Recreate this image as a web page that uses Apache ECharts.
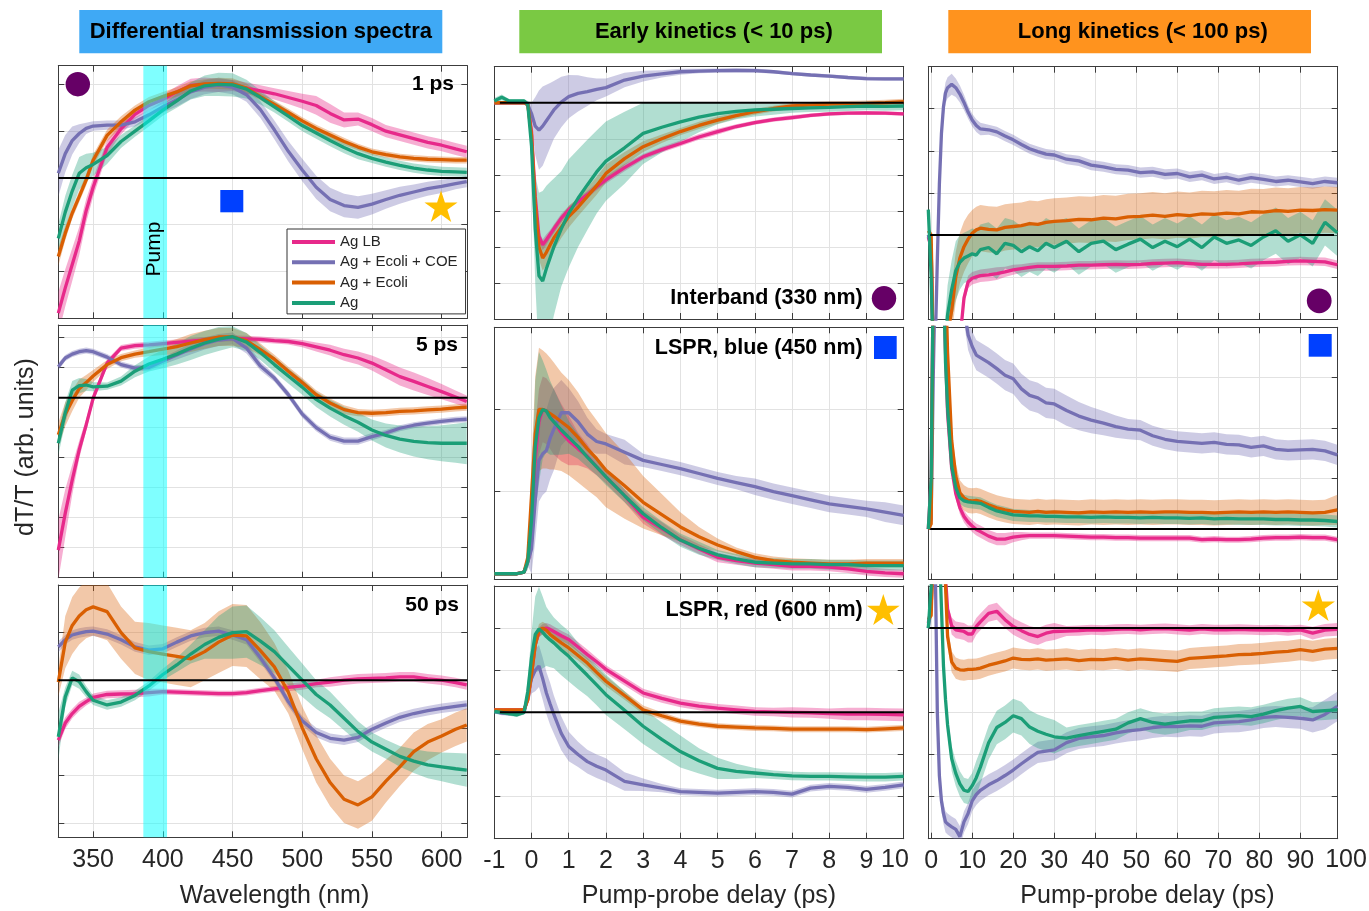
<!DOCTYPE html>
<html><head><meta charset="utf-8">
<script src="https://cdn.jsdelivr.net/npm/echarts@6/dist/echarts.min.js"></script>
<style>html,body{margin:0;padding:0;background:#fff}#c{width:1369px;height:911px}</style>
</head><body><div id="c"></div>
<script>
// ---------- DATA ----------
const NAMES = ['Ag LB','Ag + Ecoli + COE','Ag + Ecoli','Ag'];
// wavelength grid (nm)
const WL = [325,330,335,340,345,350,360,370,380,390,400,410,420,430,440,450,460,470,480,490,500,510,520,530,540,550,560,570,580,590,600,610,618];
// 1 ps spectra
const A_LB  = [-2.89,-2.35,-1.85,-1.35,-0.70,-0.20,0.65,1.05,1.36,1.55,1.68,1.84,1.98,2.00,1.98,1.98,1.92,1.86,1.80,1.72,1.64,1.55,1.38,1.24,1.26,1.14,1.00,0.92,0.84,0.76,0.70,0.62,0.56];
const A_COE = [0.10,0.52,0.80,0.95,1.06,1.11,1.13,1.13,1.20,1.35,1.52,1.67,1.84,1.94,1.99,1.94,1.78,1.46,1.03,0.57,0.17,-0.20,-0.46,-0.59,-0.63,-0.56,-0.46,-0.37,-0.30,-0.23,-0.18,-0.12,-0.08];
const A_ECO = [-1.68,-1.18,-0.75,-0.40,-0.04,0.38,0.91,1.20,1.45,1.63,1.74,1.84,1.97,2.01,2.02,2.01,1.92,1.74,1.57,1.40,1.22,1.06,0.92,0.78,0.66,0.56,0.50,0.45,0.42,0.40,0.39,0.38,0.38];
const A_AG  = [-1.29,-0.73,-0.28,0.10,0.22,0.29,0.48,0.78,1.00,1.22,1.45,1.65,1.86,1.97,2.00,1.99,1.90,1.72,1.52,1.32,1.12,0.96,0.80,0.65,0.52,0.42,0.34,0.27,0.21,0.17,0.14,0.13,0.12];
const A_LB_e  = [0.45,0.40,0.35,0.30,0.25,0.20,0.15,0.12,0.10,0.10,0.10,0.12,0.14,0.15,0.14,0.12,0.12,0.12,0.12,0.14,0.16,0.20,0.20,0.16,0.14,0.14,0.13,0.13,0.13,0.13,0.13,0.13,0.13];
const A_COE_e = [0.50,0.40,0.30,0.20,0.12,0.10,0.10,0.10,0.10,0.10,0.12,0.14,0.15,0.15,0.15,0.15,0.15,0.18,0.20,0.22,0.24,0.25,0.25,0.25,0.24,0.22,0.20,0.18,0.16,0.15,0.14,0.12,0.12];
const A_ECO_e = [0.20,0.15,0.12,0.12,0.12,0.12,0.12,0.12,0.10,0.10,0.10,0.10,0.10,0.10,0.12,0.12,0.10,0.08,0.08,0.08,0.08,0.08,0.08,0.08,0.07,0.07,0.07,0.07,0.07,0.07,0.07,0.07,0.07];
const A_AG_e  = [0.30,0.35,0.35,0.35,0.30,0.25,0.18,0.14,0.12,0.12,0.12,0.15,0.18,0.22,0.25,0.25,0.20,0.15,0.12,0.12,0.12,0.12,0.12,0.12,0.12,0.10,0.10,0.10,0.10,0.10,0.10,0.10,0.10];
// 5 ps spectra
const B_LB  = [-5.08,-3.85,-2.74,-1.74,-0.91,-0.02,1.15,1.65,1.73,1.76,1.80,1.84,1.88,1.92,1.96,1.98,1.96,1.94,1.90,1.87,1.80,1.69,1.58,1.43,1.32,1.15,0.93,0.70,0.54,0.37,0.20,0.02,-0.13];
const B_COE = [1.03,1.32,1.45,1.53,1.57,1.53,1.35,1.10,0.98,1.00,1.22,1.42,1.62,1.80,1.92,1.97,1.65,1.05,0.65,0.10,-0.55,-1.00,-1.32,-1.45,-1.45,-1.30,-1.18,-1.02,-0.92,-0.85,-0.79,-0.74,-0.72];
const B_ECO = [-1.24,-0.55,-0.10,0.30,0.50,0.72,1.10,1.33,1.45,1.53,1.62,1.70,1.82,1.93,2.02,2.02,1.90,1.60,1.28,0.88,0.50,0.10,-0.18,-0.40,-0.50,-0.52,-0.50,-0.46,-0.44,-0.41,-0.38,-0.34,-0.32];
const B_AG  = [-1.52,-0.50,0.25,0.40,0.42,0.36,0.38,0.55,0.88,1.12,1.28,1.45,1.65,1.82,1.95,2.03,1.85,1.50,1.10,0.72,0.35,-0.06,-0.35,-0.60,-0.82,-1.08,-1.26,-1.38,-1.46,-1.50,-1.52,-1.52,-1.52];
const B_LB_e  = [1.0,0.8,0.5,0.3,0.2,0.15,0.12,0.1,0.1,0.1,0.1,0.1,0.1,0.1,0.1,0.1,0.1,0.1,0.1,0.1,0.12,0.15,0.18,0.2,0.22,0.25,0.28,0.3,0.3,0.28,0.25,0.22,0.2];
const B_COE_e = [0.12,0.1,0.1,0.1,0.1,0.1,0.1,0.1,0.1,0.1,0.12,0.15,0.18,0.2,0.2,0.2,0.18,0.15,0.12,0.12,0.12,0.12,0.12,0.12,0.12,0.12,0.1,0.1,0.1,0.1,0.1,0.1,0.1];
const B_ECO_e = [0.4,0.4,0.35,0.3,0.25,0.2,0.15,0.12,0.12,0.15,0.2,0.25,0.3,0.3,0.3,0.3,0.25,0.2,0.15,0.15,0.15,0.15,0.15,0.15,0.12,0.12,0.12,0.12,0.12,0.12,0.12,0.12,0.12];
const B_AG_e  = [0.4,0.35,0.3,0.25,0.2,0.15,0.12,0.15,0.2,0.25,0.3,0.35,0.4,0.4,0.4,0.35,0.3,0.25,0.25,0.25,0.25,0.25,0.28,0.3,0.32,0.35,0.4,0.45,0.5,0.55,0.6,0.65,0.7];
// 50 ps spectra
const C_LB  = [-1.26,-0.90,-0.70,-0.55,-0.45,-0.36,-0.30,-0.29,-0.28,-0.26,-0.24,-0.25,-0.26,-0.27,-0.28,-0.28,-0.26,-0.22,-0.18,-0.15,-0.12,-0.07,-0.04,0.00,0.03,0.04,0.05,0.07,0.07,0.03,0.00,-0.05,-0.10];
const C_COE = [0.70,0.85,0.95,0.99,1.02,1.03,0.97,0.85,0.70,0.63,0.66,0.80,0.93,1.00,1.03,0.95,0.85,0.47,0.05,-0.45,-0.85,-1.10,-1.22,-1.26,-1.20,-1.03,-0.90,-0.78,-0.70,-0.64,-0.59,-0.55,-0.52];
const C_ECO = [-0.04,0.80,1.15,1.35,1.48,1.54,1.44,1.00,0.68,0.60,0.55,0.50,0.45,0.60,0.80,0.95,0.93,0.62,0.28,-0.25,-1.00,-1.65,-2.15,-2.50,-2.62,-2.45,-2.12,-1.82,-1.50,-1.30,-1.17,-1.03,-0.94];
const C_AG  = [-1.19,-0.35,0.05,-0.03,-0.24,-0.42,-0.52,-0.46,-0.32,-0.12,0.12,0.32,0.55,0.75,0.90,1.00,1.02,0.82,0.60,0.30,0.00,-0.30,-0.52,-0.80,-1.08,-1.30,-1.45,-1.60,-1.70,-1.78,-1.82,-1.86,-1.89];
const C_LB_e  = [0.15,0.12,0.1,0.1,0.08,0.08,0.08,0.08,0.08,0.08,0.06,0.06,0.06,0.06,0.06,0.06,0.06,0.06,0.06,0.08,0.08,0.08,0.1,0.1,0.1,0.1,0.1,0.1,0.1,0.1,0.1,0.1,0.1];
const C_COE_e = [0.12,0.1,0.1,0.1,0.1,0.1,0.1,0.1,0.1,0.1,0.1,0.1,0.1,0.1,0.1,0.1,0.1,0.1,0.1,0.1,0.1,0.1,0.1,0.1,0.1,0.1,0.1,0.1,0.1,0.1,0.1,0.1,0.1];
const C_ECO_e = [0.3,0.55,0.6,0.6,0.6,0.6,0.6,0.55,0.55,0.6,0.6,0.6,0.6,0.6,0.65,0.65,0.65,0.6,0.5,0.45,0.45,0.5,0.5,0.5,0.5,0.5,0.45,0.4,0.4,0.38,0.35,0.35,0.35];
const C_AG_e  = [0.5,0.2,0.15,0.15,0.12,0.1,0.1,0.1,0.1,0.1,0.12,0.15,0.2,0.3,0.45,0.55,0.55,0.5,0.45,0.4,0.35,0.3,0.28,0.25,0.22,0.2,0.2,0.22,0.25,0.28,0.3,0.33,0.35];

// early delay grid (ps)
const T = [-1,-0.8,-0.6,-0.4,-0.2,-0.1,0,0.1,0.2,0.3,0.4,0.5,0.6,0.8,1,1.25,1.5,1.75,2,2.5,3,3.5,4,4.5,5,5.5,6,6.5,7,7.5,8,8.5,9,9.5,10];
// Interband 330 nm, early
const D_LB  = [0,0,0,0,0,-0.05,-0.8,-2.6,-3.7,-3.94,-3.8,-3.65,-3.5,-3.2,-2.97,-2.75,-2.55,-2.33,-2.14,-1.8,-1.5,-1.3,-1.13,-0.95,-0.8,-0.66,-0.55,-0.47,-0.41,-0.35,-0.31,-0.29,-0.28,-0.29,-0.31];
const D_COE = [0,0,0,0,0,-0.05,-0.3,-0.65,-0.76,-0.65,-0.5,-0.35,-0.2,0.02,0.17,0.26,0.31,0.37,0.42,0.63,0.74,0.8,0.86,0.88,0.89,0.9,0.89,0.86,0.81,0.77,0.74,0.7,0.67,0.66,0.66];
const D_ECO = [0,0,0,0,0,-0.05,-0.9,-2.8,-4.0,-4.31,-4.15,-3.95,-3.75,-3.45,-3.16,-2.9,-2.6,-2.3,-1.96,-1.55,-1.22,-1.0,-0.8,-0.63,-0.48,-0.36,-0.25,-0.16,-0.09,-0.06,-0.04,-0.03,-0.02,0.0,0.03];
const D_AG  = [0.05,0.15,0.05,0.05,0.05,-0.05,-1.2,-3.5,-4.8,-4.95,-4.6,-4.3,-4.0,-3.5,-3.07,-2.65,-2.28,-1.92,-1.62,-1.25,-0.85,-0.68,-0.53,-0.4,-0.3,-0.24,-0.2,-0.18,-0.16,-0.14,-0.13,-0.11,-0.09,-0.1,-0.09];
const D_LB_e  = [0.03,0.03,0.03,0.03,0.03,0.05,0.1,0.15,0.15,0.15,0.15,0.12,0.12,0.12,0.1,0.1,0.1,0.1,0.1,0.1,0.08,0.08,0.08,0.08,0.08,0.06,0.06,0.06,0.06,0.05,0.05,0.05,0.05,0.05,0.05];
const D_COE_e = [0.03,0.03,0.03,0.03,0.03,0.1,0.3,0.8,1.1,1.1,1.0,0.9,0.8,0.7,0.6,0.5,0.4,0.3,0.25,0.2,0.15,0.1,0.08,0.06,0.06,0.06,0.06,0.05,0.05,0.05,0.05,0.05,0.05,0.05,0.05];
const D_ECO_e = [0.05,0.05,0.03,0.03,0.03,0.05,0.2,0.35,0.35,0.35,0.35,0.35,0.35,0.3,0.3,0.25,0.25,0.25,0.25,0.18,0.15,0.12,0.1,0.1,0.1,0.08,0.08,0.08,0.08,0.08,0.08,0.08,0.08,0.08,0.08];
const D_AG_e  = [0.08,0.08,0.05,0.05,0.05,0.1,0.5,1.5,2.3,2.5,2.3,2.1,1.9,1.6,1.5,1.35,1.25,1.15,1.1,1.0,0.85,0.7,0.55,0.42,0.3,0.22,0.18,0.15,0.12,0.12,0.12,0.12,0.12,0.12,0.12];
// LSPR blue 450 nm, early
const E_LB  = [0,0,0,0,0.02,0.15,0.4,1.4,1.85,2.0,1.98,1.92,1.85,1.72,1.62,1.52,1.43,1.3,1.18,0.95,0.69,0.55,0.41,0.3,0.2,0.16,0.13,0.11,0.09,0.09,0.08,0.06,0.03,0.01,0.0];
const E_COE = [0,0,0,0,0.02,0.15,0.3,0.9,1.38,1.46,1.5,1.65,1.76,1.96,1.96,1.85,1.7,1.61,1.58,1.48,1.38,1.33,1.28,1.22,1.16,1.11,1.06,1.0,0.95,0.9,0.85,0.82,0.79,0.75,0.71];
const E_ECO = [0,0,0,0,0.02,0.2,0.95,1.7,2.0,2.0,1.98,1.95,1.92,1.85,1.78,1.66,1.52,1.4,1.26,1.07,0.87,0.72,0.57,0.45,0.35,0.27,0.2,0.16,0.14,0.13,0.12,0.12,0.13,0.13,0.13];
const E_AG  = [0,0,0,0,0.02,0.15,0.65,1.55,1.9,2.0,1.98,1.9,1.85,1.75,1.66,1.55,1.42,1.3,1.18,0.95,0.73,0.56,0.41,0.31,0.23,0.18,0.14,0.13,0.12,0.12,0.11,0.11,0.1,0.1,0.1];
const E_LB_e  = [0.02,0.02,0.02,0.02,0.02,0.05,0.2,0.4,0.4,0.4,0.4,0.4,0.4,0.35,0.3,0.2,0.15,0.1,0.08,0.08,0.08,0.08,0.06,0.06,0.06,0.05,0.05,0.05,0.05,0.05,0.05,0.05,0.05,0.05,0.05];
const E_COE_e = [0.02,0.02,0.02,0.02,0.02,0.05,0.3,0.5,0.5,0.5,0.5,0.5,0.5,0.4,0.3,0.25,0.2,0.15,0.12,0.15,0.08,0.08,0.08,0.08,0.08,0.08,0.1,0.1,0.1,0.1,0.1,0.1,0.1,0.12,0.12];
const E_ECO_e = [0.02,0.02,0.02,0.02,0.02,0.1,0.4,0.7,0.75,0.72,0.7,0.68,0.65,0.6,0.58,0.55,0.5,0.47,0.45,0.4,0.32,0.25,0.18,0.12,0.08,0.05,0.05,0.05,0.05,0.05,0.05,0.05,0.05,0.05,0.05];
const E_AG_e  = [0.02,0.02,0.02,0.02,0.02,0.1,0.4,0.8,0.8,0.6,0.5,0.45,0.4,0.3,0.2,0.15,0.12,0.1,0.1,0.08,0.08,0.08,0.08,0.08,0.06,0.06,0.06,0.06,0.06,0.06,0.06,0.06,0.06,0.06,0.06];
// LSPR red 600 nm, early
const F_LB  = [0.06,0.06,0.06,0.06,0.06,0.3,0.9,1.6,1.9,1.98,2.0,1.97,1.92,1.82,1.73,1.55,1.37,1.2,1.02,0.74,0.46,0.33,0.22,0.15,0.1,0.06,0.02,0.01,0.0,-0.01,-0.03,-0.04,-0.04,-0.05,-0.06];
const F_COE = [0.02,-0.02,-0.03,-0.02,0.0,0.4,0.8,1.0,1.1,0.8,0.46,0.2,-0.05,-0.5,-0.81,-1.0,-1.17,-1.28,-1.37,-1.64,-1.72,-1.8,-1.88,-1.9,-1.92,-1.9,-1.88,-1.9,-1.94,-1.8,-1.76,-1.78,-1.83,-1.78,-1.72];
const F_ECO = [0.06,0.06,0.06,0.06,0.06,0.3,0.9,1.6,1.95,2.0,1.95,1.85,1.78,1.65,1.53,1.35,1.17,0.95,0.74,0.4,0.06,-0.08,-0.21,-0.28,-0.33,-0.35,-0.37,-0.38,-0.4,-0.4,-0.4,-0.4,-0.41,-0.39,-0.37];
const F_AG  = [0.02,0.0,-0.03,-0.06,0.0,0.5,1.3,1.85,1.98,1.9,1.8,1.72,1.65,1.48,1.33,1.1,0.88,0.65,0.42,0.05,-0.33,-0.64,-0.93,-1.15,-1.33,-1.4,-1.44,-1.48,-1.51,-1.52,-1.52,-1.53,-1.54,-1.54,-1.52];
const F_LB_e  = [0.03,0.03,0.03,0.03,0.03,0.08,0.1,0.12,0.12,0.12,0.12,0.12,0.12,0.12,0.12,0.12,0.12,0.1,0.1,0.1,0.1,0.1,0.1,0.1,0.1,0.1,0.1,0.1,0.12,0.12,0.12,0.15,0.15,0.15,0.15];
const F_COE_e = [0.05,0.05,0.05,0.05,0.05,0.2,0.35,0.5,0.5,0.5,0.5,0.5,0.45,0.4,0.35,0.3,0.28,0.28,0.28,0.22,0.15,0.1,0.08,0.08,0.08,0.08,0.08,0.08,0.08,0.08,0.08,0.08,0.08,0.08,0.08];
const F_ECO_e = [0.03,0.03,0.03,0.03,0.03,0.08,0.15,0.15,0.15,0.15,0.15,0.15,0.15,0.15,0.15,0.12,0.12,0.12,0.12,0.1,0.1,0.08,0.07,0.07,0.07,0.07,0.07,0.07,0.07,0.07,0.07,0.07,0.07,0.07,0.07];
const F_AG_e  = [0.05,0.05,0.05,0.05,0.05,0.3,0.6,0.9,1.0,0.85,0.7,0.65,0.6,0.6,0.6,0.55,0.5,0.48,0.48,0.45,0.42,0.4,0.38,0.3,0.25,0.18,0.12,0.1,0.1,0.1,0.1,0.1,0.1,0.1,0.1];

// long delay grid (ps)
const L = [-0.7,0,0.5,1,1.5,2,2.5,3,3.5,4,5,6,7,8,9,10,11,12,14,16,18,20,22,24,26,28,30,33,36,39,42,45,48,51,54,57,60,63,66,69,72,75,78,81,84,87,90,93,96,99];
// Interband, long
const G_LB  = [-0.05,-0.3,-3,-3,-3,-3,-3,-3,-3,-3,-3,-3,-2.5,-1.5,-1.12,-1.03,-1.0,-0.97,-0.95,-0.92,-0.88,-0.83,-0.8,-0.77,-0.75,-0.75,-0.75,-0.74,-0.72,-0.72,-0.71,-0.70,-0.71,-0.70,-0.68,-0.67,-0.66,-0.68,-0.70,-0.70,-0.70,-0.69,-0.67,-0.66,-0.65,-0.63,-0.62,-0.63,-0.64,-0.71];
const G_COE = [0,-0.3,-3,-2.6,-0.6,1.2,2.4,3.05,3.38,3.5,3.58,3.5,3.35,3.15,2.92,2.73,2.6,2.52,2.5,2.45,2.35,2.26,2.15,2.05,1.98,1.92,1.9,1.8,1.76,1.66,1.62,1.56,1.54,1.48,1.5,1.44,1.46,1.38,1.42,1.33,1.37,1.3,1.36,1.32,1.27,1.3,1.26,1.22,1.27,1.24];
const G_ECO = [0.1,0.0,-3,-3,-3,-3,-3,-3,-2.8,-2.4,-1.8,-1.0,-0.55,-0.28,-0.1,0.04,0.12,0.16,0.13,0.12,0.18,0.2,0.22,0.27,0.25,0.3,0.32,0.34,0.37,0.36,0.4,0.38,0.43,0.44,0.47,0.44,0.48,0.46,0.5,0.49,0.52,0.5,0.55,0.54,0.58,0.56,0.59,0.58,0.6,0.59];
const G_AG  = [0.6,-1.0,-3,-3,-3,-3,-3,-3,-2.5,-1.9,-1.3,-0.85,-0.65,-0.55,-0.5,-0.45,-0.48,-0.35,-0.3,-0.45,-0.2,-0.25,-0.4,-0.28,-0.38,-0.2,-0.3,-0.15,-0.4,-0.2,-0.15,-0.35,-0.22,-0.1,-0.3,-0.15,-0.28,-0.1,-0.3,-0.05,-0.2,-0.12,-0.25,-0.05,0.1,-0.15,0.0,-0.2,0.3,0.05];
const G_LB_e  = [0.05,0.1,0.1,0.1,0.1,0.1,0.1,0.1,0.1,0.1,0.1,0.1,0.15,0.15,0.15,0.15,0.15,0.15,0.15,0.15,0.12,0.12,0.1,0.1,0.1,0.1,0.1,0.1,0.1,0.1,0.1,0.1,0.1,0.1,0.1,0.1,0.1,0.1,0.1,0.1,0.1,0.1,0.1,0.1,0.1,0.1,0.1,0.1,0.1,0.1];
const G_COE_e = [0.05,0.1,0.2,0.3,0.3,0.3,0.3,0.28,0.25,0.25,0.25,0.22,0.2,0.18,0.16,0.15,0.15,0.15,0.12,0.12,0.12,0.12,0.12,0.12,0.12,0.12,0.12,0.12,0.12,0.12,0.12,0.12,0.12,0.12,0.12,0.12,0.12,0.12,0.12,0.12,0.12,0.12,0.12,0.12,0.12,0.12,0.12,0.12,0.12,0.12];
const G_ECO_e = [0.05,0.1,0.3,0.3,0.3,0.3,0.3,0.3,0.4,0.5,0.55,0.6,0.6,0.6,0.58,0.55,0.55,0.55,0.55,0.55,0.55,0.55,0.55,0.55,0.55,0.55,0.55,0.55,0.55,0.55,0.55,0.55,0.55,0.55,0.55,0.55,0.55,0.55,0.55,0.55,0.55,0.55,0.55,0.55,0.55,0.55,0.55,0.55,0.55,0.55];
const G_AG_e  = [0.1,0.3,0.5,0.5,0.5,0.5,0.5,0.5,0.6,0.7,0.7,0.7,0.65,0.6,0.6,0.6,0.6,0.6,0.6,0.6,0.6,0.6,0.6,0.6,0.6,0.6,0.6,0.55,0.55,0.55,0.55,0.55,0.55,0.55,0.55,0.55,0.55,0.55,0.55,0.55,0.55,0.55,0.55,0.55,0.55,0.55,0.55,0.55,0.55,0.55];
// LSPR blue, long
const H_LB  = [0,1.0,5,5,5,5,5,5,3.5,2.3,1.2,0.7,0.42,0.25,0.14,0.06,-0.01,-0.05,-0.14,-0.2,-0.2,-0.16,-0.14,-0.13,-0.13,-0.13,-0.13,-0.14,-0.15,-0.16,-0.16,-0.17,-0.17,-0.18,-0.18,-0.18,-0.18,-0.18,-0.21,-0.2,-0.21,-0.21,-0.2,-0.18,-0.17,-0.17,-0.16,-0.17,-0.17,-0.21];
const H_COE = [0,0.2,3,5,5,5,5,5,5,5,5,5,5,4.4,3.85,3.62,3.45,3.4,3.3,3.18,3.05,2.98,2.78,2.65,2.6,2.5,2.48,2.35,2.24,2.16,2.1,2.03,1.98,1.96,1.85,1.78,1.74,1.72,1.7,1.72,1.68,1.67,1.62,1.65,1.58,1.56,1.57,1.58,1.55,1.47];
const H_ECO = [0,0.1,5,5,5,5,5,5,5,3.5,1.75,1.05,0.72,0.62,0.57,0.56,0.57,0.55,0.48,0.42,0.38,0.35,0.34,0.33,0.35,0.33,0.34,0.33,0.32,0.34,0.33,0.34,0.33,0.34,0.33,0.34,0.34,0.33,0.33,0.32,0.33,0.34,0.33,0.34,0.33,0.34,0.33,0.32,0.33,0.38];
const H_AG  = [0,1.0,5,5,5,5,5,5,3.3,2.4,1.25,0.82,0.62,0.56,0.54,0.53,0.52,0.51,0.43,0.36,0.32,0.28,0.27,0.26,0.26,0.25,0.25,0.24,0.24,0.23,0.24,0.23,0.23,0.22,0.23,0.22,0.22,0.21,0.22,0.2,0.21,0.2,0.2,0.2,0.19,0.19,0.18,0.18,0.17,0.15];
const H_LB_e  = [0.03,0.1,0.1,0.1,0.1,0.1,0.1,0.1,0.1,0.1,0.1,0.1,0.12,0.12,0.12,0.12,0.12,0.12,0.12,0.12,0.12,0.1,0.08,0.06,0.06,0.06,0.06,0.06,0.06,0.06,0.06,0.06,0.06,0.06,0.06,0.06,0.06,0.06,0.06,0.06,0.06,0.06,0.06,0.06,0.06,0.06,0.06,0.06,0.06,0.06];
const H_COE_e = [0.03,0.2,0.3,0.3,0.3,0.3,0.3,0.3,0.3,0.3,0.3,0.3,0.3,0.3,0.3,0.3,0.3,0.3,0.3,0.3,0.3,0.3,0.3,0.3,0.3,0.3,0.3,0.3,0.28,0.26,0.24,0.22,0.2,0.2,0.2,0.2,0.2,0.2,0.2,0.2,0.2,0.2,0.2,0.2,0.2,0.2,0.2,0.2,0.2,0.2];
const H_ECO_e = [0.03,0.1,0.2,0.2,0.2,0.2,0.2,0.2,0.2,0.25,0.25,0.25,0.25,0.25,0.25,0.25,0.25,0.25,0.25,0.25,0.25,0.25,0.25,0.25,0.25,0.25,0.25,0.25,0.25,0.25,0.25,0.25,0.25,0.25,0.25,0.25,0.25,0.25,0.25,0.25,0.25,0.25,0.25,0.25,0.25,0.25,0.25,0.25,0.25,0.3];
const H_AG_e  = [0.03,0.1,0.1,0.1,0.1,0.1,0.1,0.1,0.1,0.1,0.12,0.12,0.12,0.12,0.12,0.12,0.12,0.12,0.12,0.12,0.12,0.12,0.12,0.12,0.12,0.12,0.12,0.12,0.12,0.12,0.12,0.12,0.12,0.12,0.12,0.12,0.12,0.12,0.12,0.12,0.12,0.12,0.12,0.12,0.12,0.12,0.12,0.12,0.12,0.12];
// LSPR red, long
const I_LB  = [0.12,0.5,2,2,2,2,2,2,1.2,0.45,0.05,-0.04,-0.06,-0.08,-0.14,-0.14,0.04,0.15,0.35,0.4,0.2,0.04,-0.06,-0.15,-0.2,-0.12,-0.08,-0.07,-0.06,-0.04,-0.05,-0.03,-0.02,-0.04,-0.02,-0.01,-0.03,-0.05,-0.02,-0.04,-0.04,-0.03,-0.04,-0.05,-0.04,-0.06,-0.04,-0.12,-0.05,-0.03];
const I_COE = [0,0.5,2,1.5,-2.0,-3.5,-4.1,-4.4,-4.6,-4.65,-4.72,-4.78,-4.95,-4.6,-4.4,-4.1,-3.95,-3.85,-3.72,-3.62,-3.5,-3.37,-3.22,-3.08,-2.95,-2.92,-2.89,-2.72,-2.62,-2.58,-2.55,-2.49,-2.44,-2.41,-2.36,-2.33,-2.34,-2.32,-2.33,-2.25,-2.23,-2.22,-2.18,-2.12,-2.1,-2.12,-2.14,-2.18,-2.05,-1.86];
const I_ECO = [0.2,0.3,2,2,2,2,2,2,1.0,-0.2,-0.8,-0.95,-0.99,-1.0,-0.98,-0.98,-0.97,-0.95,-0.88,-0.83,-0.78,-0.71,-0.74,-0.75,-0.73,-0.76,-0.75,-0.73,-0.77,-0.74,-0.75,-0.72,-0.76,-0.73,-0.75,-0.77,-0.79,-0.72,-0.7,-0.68,-0.66,-0.63,-0.62,-0.6,-0.57,-0.55,-0.51,-0.55,-0.5,-0.48];
const I_AG  = [0.0,1.0,2,2,2,2,0.5,-0.9,-1.7,-2.3,-3.1,-3.45,-3.7,-3.85,-3.88,-3.74,-3.55,-3.3,-2.72,-2.36,-2.24,-2.08,-2.15,-2.35,-2.45,-2.52,-2.58,-2.61,-2.55,-2.5,-2.45,-2.4,-2.25,-2.15,-2.24,-2.28,-2.24,-2.2,-2.2,-2.12,-2.1,-2.08,-2.1,-2.04,-1.96,-1.9,-1.86,-1.98,-1.96,-1.94];
const I_LB_e  = [0.05,0.1,0.1,0.1,0.1,0.1,0.1,0.1,0.1,0.1,0.2,0.2,0.2,0.2,0.2,0.2,0.2,0.2,0.2,0.2,0.2,0.2,0.2,0.2,0.2,0.2,0.2,0.12,0.12,0.12,0.12,0.12,0.12,0.12,0.12,0.12,0.12,0.12,0.12,0.12,0.12,0.12,0.12,0.12,0.12,0.12,0.12,0.15,0.15,0.15];
const I_COE_e = [0.05,0.25,0.25,0.25,0.25,0.25,0.25,0.25,0.25,0.25,0.25,0.25,0.25,0.25,0.25,0.25,0.25,0.25,0.25,0.25,0.25,0.25,0.25,0.25,0.25,0.25,0.25,0.25,0.25,0.25,0.25,0.25,0.25,0.25,0.25,0.25,0.25,0.25,0.25,0.25,0.25,0.25,0.25,0.25,0.25,0.25,0.25,0.3,0.35,0.35];
const I_ECO_e = [0.05,0.1,0.2,0.2,0.2,0.2,0.2,0.2,0.2,0.25,0.25,0.25,0.25,0.25,0.25,0.25,0.25,0.25,0.25,0.25,0.25,0.25,0.25,0.25,0.25,0.25,0.25,0.25,0.25,0.25,0.25,0.25,0.25,0.25,0.25,0.25,0.25,0.25,0.25,0.25,0.25,0.25,0.25,0.25,0.25,0.25,0.25,0.25,0.25,0.25];
const I_AG_e  = [0.05,0.2,0.2,0.2,0.2,0.2,0.2,0.2,0.2,0.2,0.3,0.3,0.3,0.3,0.3,0.3,0.4,0.4,0.4,0.4,0.4,0.4,0.4,0.4,0.4,0.4,0.4,0.25,0.25,0.25,0.25,0.25,0.25,0.25,0.25,0.25,0.25,0.22,0.22,0.22,0.22,0.22,0.22,0.22,0.22,0.22,0.22,0.22,0.22,0.22];

// reference (zero) lines: x extent
const ZERO_A = [325, 618.4], ZERO_B = [325, 618.4], ZERO_C = [325, 618.4];
const ZERO_D = [-0.85, 10], ZERO_F = [-0.85, 10];
const ZERO_G = [-0.25, 98.2], ZERO_H = [-0.2, 99.1], ZERO_I = [-0.4, 99.1];
const PUMP_NM = [386, 403];
// tick values
const X_TICKS_WL = [350,400,450,500,550,600];
const X_TICKS_EARLY = [-1,0,1,2,3,4,5,6,7,8,9,10];
const X_LABELS_EARLY = [-1,0,1,2,3,4,5,6,7,8,9];
const X_TICKS_LONG = [0,10,20,30,40,50,60,70,80,90];

// ---------- STYLE / LAYOUT ----------
const COLORS = ['#e7298a','#7570b3','#d95f02','#1b9e77'];
const BAND_COLORS = ['rgba(231,41,138,0.38)','rgba(117,112,179,0.36)','rgba(217,95,2,0.34)','rgba(27,158,119,0.34)'];
const FONT = '"Liberation Sans", Arial, Helvetica, sans-serif';
const AXIS_COLOR = '#3c3c3c';
const GRID_COLOR = '#e2e2e2';
const COL_L = [58.3, 494.3, 928.3], COL_W = [409, 409.4, 409.4];
const ROW_T = [[65.7,325,585],[66.7,327.3,586],[66.7,327.3,586]];
const ROW_H = [[252.6,252.7,252.3],[252.3,252.2,252.7],[252.3,252.2,252.7]];

function ints(a, b) { const r = []; for (let v = a; v <= b; v++) r.push(v); return r; }

const panels = [
  {col:0,row:0,x:WL,ys:[A_LB,A_COE,A_ECO,A_AG],es:[A_LB_e,A_COE_e,A_ECO_e,A_AG_e],xr:[325,618.4],yr:[-3,2.4],zero:ZERO_A},
  {col:0,row:1,x:WL,ys:[B_LB,B_COE,B_ECO,B_AG],es:[B_LB_e,B_COE_e,B_ECO_e,B_AG_e],xr:[325,618.4],yr:[-6,2.42],zero:ZERO_B},
  {col:0,row:2,x:WL,ys:[C_LB,C_COE,C_ECO,C_AG],es:[C_LB_e,C_COE_e,C_ECO_e,C_AG_e],xr:[325,618.4],yr:[-3.3,2.0],zero:ZERO_C},
  {col:1,row:0,x:T,ys:[D_LB,D_COE,D_ECO,D_AG],es:[D_LB_e,D_COE_e,D_ECO_e,D_AG_e],xr:[-1,10],yr:[-6,1],zero:ZERO_D},
  {col:1,row:1,x:T,ys:[E_LB,E_COE,E_ECO,E_AG],es:[E_LB_e,E_COE_e,E_ECO_e,E_AG_e],xr:[-1,10],yr:[-0.07,3],zero:null},
  {col:1,row:2,x:T,ys:[F_LB,F_COE,F_ECO,F_AG],es:[F_LB_e,F_COE_e,F_ECO_e,F_AG_e],xr:[-1,10],yr:[-3,3],zero:ZERO_F},
  {col:2,row:0,x:L,ys:[G_LB,G_COE,G_ECO,G_AG],es:[G_LB_e,G_COE_e,G_ECO_e,G_AG_e],xr:[-0.7,99.1],yr:[-2,4],zero:ZERO_G},
  {col:2,row:1,x:L,ys:[H_LB,H_COE,H_ECO,H_AG],es:[H_LB_e,H_COE_e,H_ECO_e,H_AG_e],xr:[-0.7,99.1],yr:[-1,4],zero:ZERO_H},
  {col:2,row:2,x:L,ys:[I_LB,I_COE,I_ECO,I_AG],es:[I_LB_e,I_COE_e,I_ECO_e,I_AG_e],xr:[-0.7,99.1],yr:[-5,1],zero:ZERO_I}
];

const grids = [], xAxes = [], yAxes = [], series = [];
const xTickSets = [X_TICKS_WL, X_TICKS_EARLY, X_TICKS_LONG];
const xLabelSets = [X_TICKS_WL, X_LABELS_EARLY, X_TICKS_LONG];

function bandSeries(i, xs, v, e, k) {
  return {type:'custom', xAxisIndex:2*i, yAxisIndex:2*i, silent:true, z:1,
    data:[[xs[0], v[0]]],
    renderItem: function (params, api) {
      const pts = [];
      for (let j = 0; j < xs.length; j++) pts.push(api.coord([xs[j], v[j] + e[j]]));
      for (let j = xs.length - 1; j >= 0; j--) pts.push(api.coord([xs[j], v[j] - e[j]]));
      const cs = params.coordSys;
      return {type:'polygon', shape:{points:pts}, style:{fill:BAND_COLORS[k], stroke:null},
        clipPath:{type:'rect', shape:{x:cs.x, y:cs.y, width:cs.width, height:cs.height}}};
    }};
}

panels.forEach((p, i) => {
  grids.push({left: COL_L[p.col], top: ROW_T[p.col][p.row], width: COL_W[p.col], height: ROW_H[p.col][p.row]});
  const yt = ints(Math.ceil(p.yr[0]), Math.floor(p.yr[1]));
  const bottomRow = p.row === 2;
  const tickStyle = {show:true, inside:true, length:6, lineStyle:{color:AXIS_COLOR, width:1}};
  const lineStyle = {show:true, onZero:false, lineStyle:{color:AXIS_COLOR, width:1}};
  xAxes.push({gridIndex:i, type:'value', min:p.xr[0], max:p.xr[1], position:'bottom',
    axisLine:lineStyle, axisTick:Object.assign({customValues:xTickSets[p.col]}, tickStyle),
    axisLabel:{show:bottomRow, customValues:xLabelSets[p.col], fontSize:25, color:'#262626', fontFamily:FONT, margin:10},
    splitLine:{show:true, lineStyle:{color:GRID_COLOR, width:1}}});
  xAxes.push({gridIndex:i, type:'value', min:p.xr[0], max:p.xr[1], position:'top',
    axisLine:lineStyle, axisTick:Object.assign({customValues:xTickSets[p.col]}, tickStyle),
    axisLabel:{show:false}, splitLine:{show:false}});
  yAxes.push({gridIndex:i, type:'value', min:p.yr[0], max:p.yr[1], position:'left',
    axisLine:lineStyle, axisTick:Object.assign({customValues:yt}, tickStyle),
    axisLabel:{show:false, customValues:yt}, splitLine:{show:true, lineStyle:{color:GRID_COLOR, width:1}}});
  yAxes.push({gridIndex:i, type:'value', min:p.yr[0], max:p.yr[1], position:'right',
    axisLine:lineStyle, axisTick:Object.assign({customValues:yt}, tickStyle),
    axisLabel:{show:false}, splitLine:{show:false}});
  const xa = 2*i, ya = 2*i;
  p.ys.forEach((vals, k) => series.push(bandSeries(i, p.x, vals, p.es[k], k)));
  p.ys.forEach((vals, k) => {
    series.push({name:NAMES[k], type:'line', xAxisIndex:xa, yAxisIndex:ya, symbol:'none', z:2,
      lineStyle:{width:3.3, color:COLORS[k]}, itemStyle:{color:COLORS[k]},
      data:p.x.map((x, j) => [x, vals[j]])});
  });
  if (p.col === 0) {
    series.push({type:'line', xAxisIndex:xa, yAxisIndex:ya, symbol:'none', silent:true, z:10,
      lineStyle:{opacity:0}, data:[[PUMP_NM[0], 0]],
      markArea:{z:10, silent:true, itemStyle:{color:'rgba(0,255,255,0.5)'}, data:[[{xAxis:PUMP_NM[0]},{xAxis:PUMP_NM[1]}]]}});
  }
  if (p.zero) {
    series.push({type:'line', xAxisIndex:xa, yAxisIndex:ya, symbol:'none', silent:true, z:12,
      lineStyle:{width:2, color:'#000'}, data:[[p.zero[0],0],[p.zero[1],0]]});
  }
});

function starPts(cx, cy, R) {
  const pts = [], r = R * 0.382;
  for (let k = 0; k < 10; k++) {
    const a = -Math.PI/2 + k*Math.PI/5, rad = k % 2 ? r : R;
    pts.push([cx + rad*Math.cos(a), cy + rad*Math.sin(a)]);
  }
  return pts;
}
function txt(x, y, text, size, opts) {
  return Object.assign({type:'text', x, y, z:50, style:Object.assign({text, font: (opts && opts.bold ? 'bold ' : '') + size + 'px ' + FONT,
    fill:'#000', align:'center', verticalAlign:'middle', textAlign:'center', textVerticalAlign:'middle'}, opts && opts.style)}, opts && opts.el);
}
const right = {style:{align:'right', textAlign:'right'}};

const graphic = [
  {type:'rect', z:40, shape:{x:79.3, y:10, width:363, height:43.3}, style:{fill:'#3FA9F5'}},
  {type:'rect', z:40, shape:{x:519.3, y:10, width:362.7, height:43.3}, style:{fill:'#7AC943'}},
  {type:'rect', z:40, shape:{x:948.3, y:10, width:362.7, height:43.3}, style:{fill:'#FF931E'}},
  txt(260.8, 31.5, 'Differential transmission spectra', 22, {bold:true}),
  txt(713.8, 31.5, 'Early kinetics (< 10 ps)', 22, {bold:true}),
  txt(1142.8, 31.5, 'Long kinetics (< 100 ps)', 22, {bold:true}),
  txt(454, 84, '1 ps', 21, Object.assign({bold:true}, right)),
  txt(458, 345, '5 ps', 21, Object.assign({bold:true}, right)),
  txt(459, 605, '50 ps', 21, Object.assign({bold:true}, right)),
  txt(862.7, 298, 'Interband (330 nm)', 21.5, Object.assign({bold:true}, right)),
  txt(862.7, 348, 'LSPR, blue (450 nm)', 21.5, Object.assign({bold:true}, right)),
  txt(862.7, 610, 'LSPR, red (600 nm)', 21.5, Object.assign({bold:true}, right)),
  txt(154.5, 249, 'Pump', 21, {el:{rotation:Math.PI/2}}),
  txt(26.5, 447, 'dT/T (arb. units)', 25, {el:{rotation:Math.PI/2}, style:{fill:'#262626'}}),
  txt(274.5, 896, 'Wavelength (nm)', 25, {style:{fill:'#262626'}}),
  txt(709, 896, 'Pump-probe delay (ps)', 25, {style:{fill:'#262626'}}),
  txt(1147.5, 896, 'Pump-probe delay (ps)', 25, {style:{fill:'#262626'}}),
  txt(1346, 860, '100', 25, {style:{fill:'#262626'}}),
  txt(895, 860, '10', 25, {style:{fill:'#262626'}}),
  {type:'circle', z:50, shape:{cx:77.8, cy:84.2, r:12.2}, style:{fill:'#660066'}},
  {type:'circle', z:50, shape:{cx:884, cy:298.3, r:12.2}, style:{fill:'#660066'}},
  {type:'circle', z:50, shape:{cx:1319.2, cy:300.8, r:12.4}, style:{fill:'#660066'}},
  {type:'rect', z:50, shape:{x:220.3, y:190, width:23, height:22.3}, style:{fill:'#0040FF'}},
  {type:'rect', z:50, shape:{x:874, y:336, width:22.7, height:23}, style:{fill:'#0040FF'}},
  {type:'rect', z:50, shape:{x:1308.7, y:334, width:23, height:22.7}, style:{fill:'#0040FF'}},
  {type:'polygon', z:50, shape:{points:starPts(441, 207.8, 17.4)}, style:{fill:'#FFBF00'}},
  {type:'polygon', z:50, shape:{points:starPts(883.3, 611.1, 17.2)}, style:{fill:'#FFBF00'}},
  {type:'polygon', z:50, shape:{points:starPts(1318.3, 606.8, 17.5)}, style:{fill:'#FFBF00'}}
];

const chart = echarts.init(document.getElementById('c'), null, {renderer:'canvas'});
chart.setOption({
  animation:false,
  backgroundColor:'#fff',
  grid:grids, xAxis:xAxes, yAxis:yAxes, series,
  legend:{data:NAMES, left:287, top:229, orient:'vertical', icon:'rect', itemWidth:43, itemHeight:4, itemGap:4.3,
    padding:[5,8,3,5], borderColor:'#333', borderWidth:1, backgroundColor:'#fff', selectedMode:false, z:20,
    textStyle:{fontSize:15, color:'#262626', fontFamily:FONT, lineHeight:16}},
  graphic
});
</script></body></html>
